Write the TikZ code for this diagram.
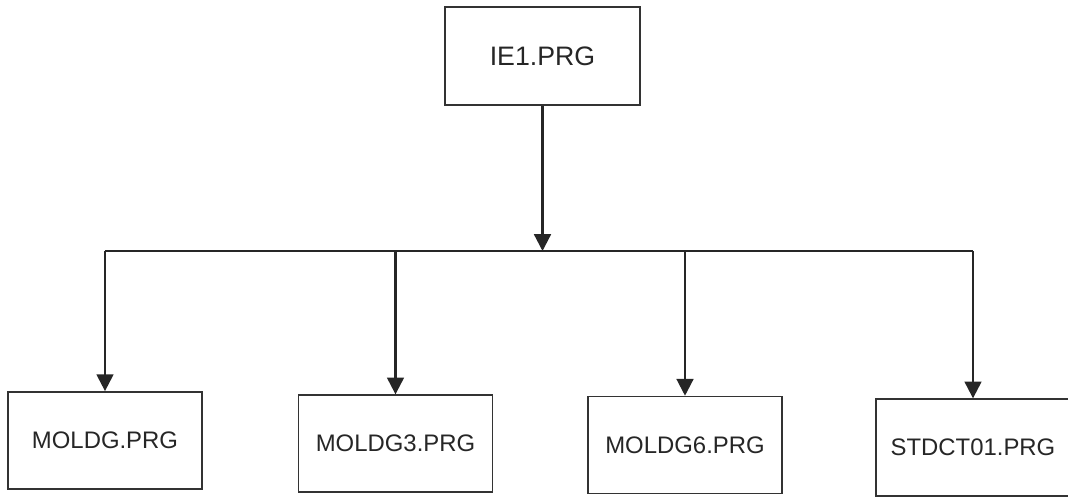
\documentclass[tikz,border=0pt]{standalone}
\usepackage{fontspec}
\setmainfont{Liberation Sans}
\usetikzlibrary{arrows.meta}

\begin{document}
\begin{tikzpicture}[
prgbox/.style={
  draw=black!80, line width=1.1pt,
  minimum width=4.85cm, minimum height=2.425cm,
  text=black!85, font=\fontsize{17}{20}\selectfont
},
link/.style={
  draw=black!85, line width=1.6pt,
  -{Triangle[length=0.42cm,width=0.42cm]}
}]
\useasboundingbox (0,0) rectangle (26.7,12.4);
\node (ie1) [prgbox, minimum width=4.875cm, minimum height=2.45cm,
  font=\fontsize{19}{22}\selectfont] at (13.5625,11) {IE1.PRG};
\node (moldg) [prgbox] at (2.625,1.39) {MOLDG.PRG};
\node (moldg3) [prgbox] at (9.8875,1.31) {MOLDG3.PRG};
\node (moldg6) [prgbox] at (17.125,1.275) {MOLDG6.PRG};
\node (stdct01) [prgbox] at (24.325,1.21) {STDCT01.PRG};
\coordinate (bus) at (13.5625,6.125);
% connectors
\draw [link] (ie1) -- (bus);
\draw [link, -] (bus -| moldg) -- (bus -| stdct01);
\draw [link] (bus -| moldg) -- (moldg);
\draw [link] (bus -| moldg3) -- (moldg3);
\draw [link] (bus -| moldg6) -- (moldg6);
\draw [link] (bus -| stdct01) -- (stdct01);
\end{tikzpicture}
\end{document}
